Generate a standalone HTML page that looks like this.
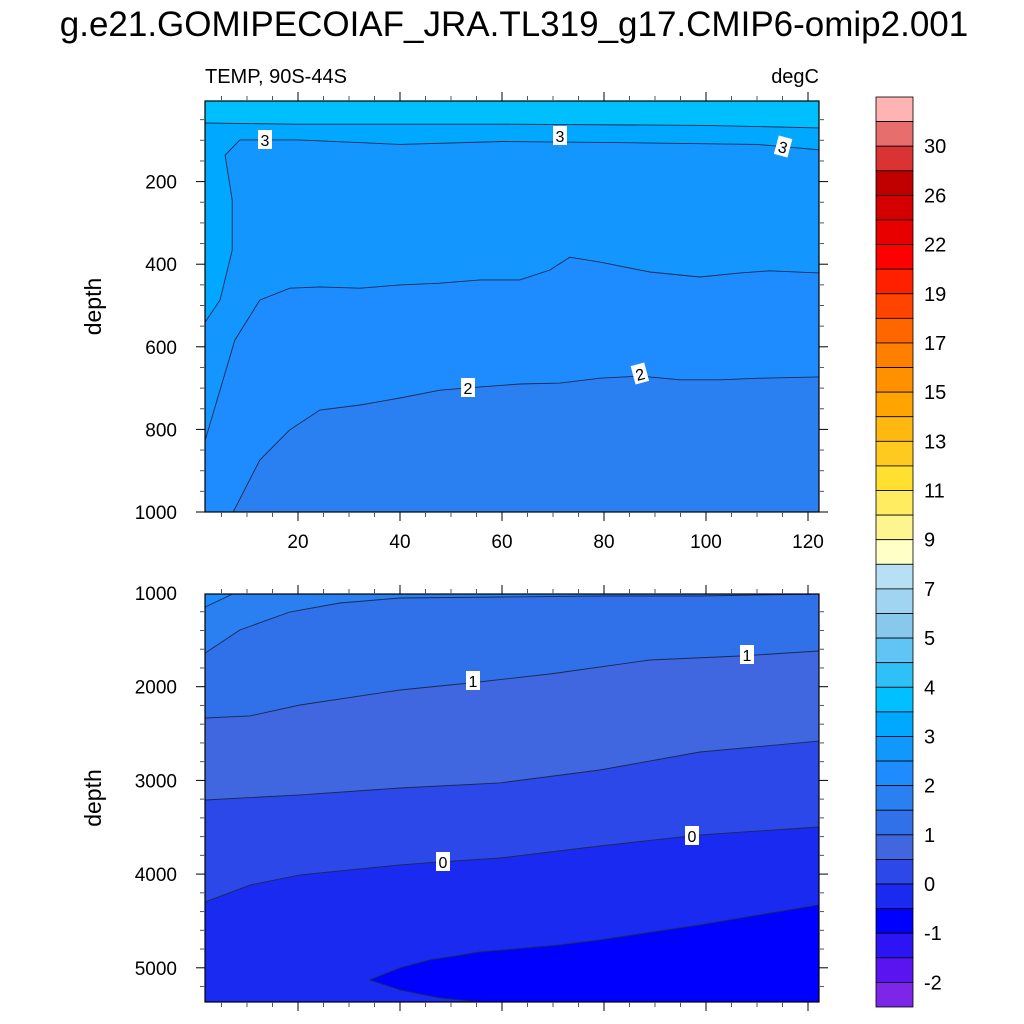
<!DOCTYPE html>
<html><head><meta charset="utf-8"><style>
html,body{margin:0;padding:0;background:#fff;width:1024px;height:1024px;overflow:hidden}
svg text{font-family:"Liberation Sans",sans-serif;fill:#000}
</style></head><body>
<svg id="chart" width="1024" height="1024" viewBox="0 0 1024 1024" xmlns="http://www.w3.org/2000/svg">
<text x="514" y="36" font-size="35" text-anchor="middle">g.e21.GOMIPECOIAF_JRA.TL319_g17.CMIP6-omip2.001</text>
<text x="205" y="83" font-size="20">TEMP, 90S-44S</text>
<text x="819" y="83" font-size="20" text-anchor="end">degC</text>
<g id="top"></g>
<g id="bot"></g>
<g id="cbar"></g>
</svg>
<script>
const NS="http://www.w3.org/2000/svg";
// ---- data ----
const xTicks=[20,40,60,80,100,120];
const topDepthTicks=[200,400,600,800,1000];
const botDepthTicks=[1000,2000,3000,4000,5000];
// contour lines as [x, depth]
const topC35=[[1.8,58],[20,61],[60,61],[100,64],[122.2,70]];
const topC3=[[122.2,123],[110,110],[80,105],[60,103],[40,110],[20,99],[8.6,99],[5.7,136],[7.1,245],[7.1,366],[4.7,487],[1.8,540]];
const topC25=[[1.8,826],[7.6,584],[12.5,487],[18.4,458],[24.3,455],[32.2,458],[40,450],[47.8,446],[55.7,438],[63.5,438],[69.4,414],[73.3,383],[79.2,395],[89,419],[98.8,431],[106.7,421],[112.5,416],[122.2,421]];
const topC2=[[7.3,1000],[12.5,874],[18.4,801],[24.3,753],[32.2,741],[40,724],[47.8,705],[55.7,697],[63.5,690],[71.4,688],[79.2,676],[87.1,671],[94.9,680],[102.7,680],[110.6,676],[122.2,673]];
const botC2=[[1.8,1149],[7.6,1000]];
const botC15=[[1.8,1640],[8.6,1395],[18.4,1203],[28.2,1107],[40,1053],[59.6,1043],[79.2,1032],[98.8,1032],[122.2,1011]];
const botC1=[[1.8,2334],[10.6,2312],[20.4,2195],[40,2035],[53.7,1960],[69.4,1864],[89,1715],[106.7,1672],[122.2,1619]];
const botC05=[[1.8,3209],[20.4,3155],[40,3081],[59.6,3027],[79.2,2889],[98.8,2697],[122.2,2579]];
const botC0=[[1.8,4297],[10.6,4116],[20.4,4009],[40,3902],[47.8,3870],[59.6,3828],[79.2,3700],[98.8,3582],[122.2,3497]];
const botCm05=[[34.1,5129],[40,5001],[45.9,4916],[55.7,4831],[71.4,4756],[79.2,4702],[98.8,4542],[122.2,4329],[122.2,5364],[55.7,5364],[47.8,5321],[40,5236],[34.1,5129]];
const cbarColors=["#ffb3b3","#e86d6d","#d93333","#c00000","#d40000","#e80000","#ff0000","#ff2000","#ff4400","#ff6600","#ff7f00","#ff9000","#ffa400","#ffb810","#ffca20","#ffe030","#ffec60","#fff590","#ffffc8","#b8e0f4","#a0d4f0","#88c8ec","#60c4f4","#30c0f8","#00c0ff","#00a8ff","#1198ff","#1e8cff","#2a80f0","#3070e8","#4066e0","#2c48e8","#1a2af0","#0000ff","#2d14f5","#5a14f0","#7d26e8"];
const cbarLabels=["30","26","22","19","17","15","13","11","9","7","5","4","3","2","1","0","-1","-2"];
// ---- axes ----
const L=205,R=819;
const xs=v=>196+v*5.1;
const ysTop=d=>99+d*0.413;
const ysBot=d=>593+(d-1000)*0.0937;
function el(tag,attrs,parent){const e=document.createElementNS(NS,tag);for(const k in attrs)e.setAttribute(k,attrs[k]);parent.appendChild(e);return e;}
function pathOf(pts,ys){return pts.map((p,i)=>(i?"L":"M")+xs(p[0]).toFixed(1)+","+ys(p[1]).toFixed(1)).join("");}
function fillAbove(g,pts,ys,topY,color,name){
  const first=pts[0],last=pts[pts.length-1];
  let d=pathOf(pts,ys)+"L"+xs(last[0]).toFixed(1)+","+(topY-2)+"L"+xs(first[0]).toFixed(1)+","+(topY-2)+"Z";
  const p=el("path",{d:d,fill:color,stroke:"none"},g);
  
  
}
function line(g,pts,ys,name){
  const p=el("path",{d:pathOf(pts,ys),fill:"none",stroke:"#1a2a50","stroke-width":"0.9"},g);
  
  
}
function lab(g,x,y,t,rot,name){
  const gg=el("g",{transform:`translate(${x},${y}) rotate(${rot})`},g);
  el("rect",{x:-7,y:-10,width:14,height:19,fill:"#fff"},gg);
  const tx=el("text",{x:0,y:6,"font-size":"16","text-anchor":"middle"},gg);
  tx.textContent=t;
  
  
}
function frame(g,top,bot,ys,dTicks,minorStep,dMin,dMax,showX){
  el("rect",{x:L,y:top,width:R-L,height:bot-top,fill:"none",stroke:"#000","stroke-width":"1.2"},g);
  for(let v=5;v<=120;v+=5){
    const x=xs(v),maj=v%20===0,len=maj?9:5;
    el("line",{x1:x,x2:x,y1:top,y2:top-len,stroke:maj?"#000":"#555","stroke-width":"1"},g);
    el("line",{x1:x,x2:x,y1:bot,y2:bot+len,stroke:maj?"#000":"#555","stroke-width":"1"},g);
  }
  for(let d=Math.ceil(dMin/minorStep)*minorStep;d<=dMax;d+=minorStep){
    const y=ys(d);if(y<top-0.5||y>bot+0.5)continue;
    const maj=dTicks.includes(d),len=maj?9:5;
    el("line",{x1:L,x2:L-len,y1:y,y2:y,stroke:maj?"#000":"#555","stroke-width":"1"},g);
    el("line",{x1:R,x2:R+len,y1:y,y2:y,stroke:maj?"#000":"#555","stroke-width":"1"},g);
  }
  dTicks.forEach(d=>{const t=el("text",{x:177,y:ys(d)+7,"font-size":"19","text-anchor":"end"},g);t.textContent=d;
    });
  if(showX)xTicks.forEach(v=>{const t=el("text",{x:xs(v),y:bot+36,"font-size":"19","text-anchor":"middle"},g);t.textContent=v;
    });
  const yt=el("text",{x:0,y:0,"font-size":"23","text-anchor":"middle",transform:`translate(101,${(top+bot)/2}) rotate(-90)`},g);
  yt.textContent="depth";
  
}
// ---- top panel ----
const gt=document.getElementById("top");
const clipT=el("clipPath",{id:"ct"},gt);el("rect",{x:L,y:101,width:R-L,height:411},clipT);
const ft=el("g",{"clip-path":"url(#ct)"},gt);
el("rect",{x:L,y:101,width:R-L,height:411,fill:"#2a80f0"},ft);
fillAbove(ft,[[1.8,1000]].concat(topC2),ysTop,101,"#1e8cff","band-2-2.5");
fillAbove(ft,topC25,ysTop,101,"#1496ff","band-2.5-3");
fillAbove(ft,topC3,ysTop,101,"#00a8ff","band-3-3.5");
fillAbove(ft,topC35,ysTop,101,"#00bfff","band-3.5-4");
line(ft,topC35,ysTop,"contour-3.5");line(ft,topC3,ysTop,"contour-3");line(ft,topC25,ysTop,"contour-2.5");line(ft,topC2,ysTop,"contour-2");
lab(ft,265,140,"3",0,"contour-label-3");lab(ft,560,136,"3",0,"contour-label-3");lab(ft,783,147,"3",15,"contour-label-3");
lab(ft,468,388,"2",0,"contour-label-2");lab(ft,640,374,"2",-15,"contour-label-2");
frame(gt,101,512,ysTop,topDepthTicks,50,0,1000,true);
// ---- bottom panel ----
const gb=document.getElementById("bot");
const clipB=el("clipPath",{id:"cb"},gb);el("rect",{x:L,y:594,width:R-L,height:408},clipB);
const fb=el("g",{"clip-path":"url(#cb)"},gb);
el("rect",{x:L,y:594,width:R-L,height:408,fill:"#1a2af0"},fb);
fillAbove(fb,botC0,ysBot,594,"#2c48e8","band-0-0.5");
fillAbove(fb,botC05,ysBot,594,"#4066e0","band-0.5-1");
fillAbove(fb,botC1,ysBot,594,"#3070e8","band-1-1.5");
fillAbove(fb,botC15,ysBot,594,"#2a80f0","band-1.5-2");
fillAbove(fb,botC2.concat([[1.8,1000]]),ysBot,594,"#1e8cff","band-2-2.5");
const pm=el("path",{d:pathOf(botCm05,ysBot)+"Z",fill:"#0000ff",stroke:"#1a2a50","stroke-width":"0.9"},fb);

[botC2,botC15,botC1,botC05,botC0].forEach((c,i)=>line(fb,c,ysBot,"contour-line"));
lab(fb,473,681,"1",0,"contour-label-1");lab(fb,747,655,"1",0,"contour-label-1");
lab(fb,443,862,"0",0,"contour-label-0");lab(fb,692,836,"0",0,"contour-label-0");
frame(gb,594,1002,ysBot,botDepthTicks,200,1000,5400,false);
// ---- colorbar ----
const gc=document.getElementById("cbar");
const cTop=97,cBot=1007,bh=(cBot-cTop)/cbarColors.length;
cbarColors.forEach((c,i)=>{const r=el("rect",{x:876,y:cTop+i*bh,width:37,height:bh,fill:c,stroke:"#000","stroke-width":"0.8"},gc);
  });
cbarLabels.forEach((t,i)=>{const tx=el("text",{x:924,y:cTop+(2*i+2)*bh+7,"font-size":"20"},gc);tx.textContent=t;
  });
</script>
</body></html>
